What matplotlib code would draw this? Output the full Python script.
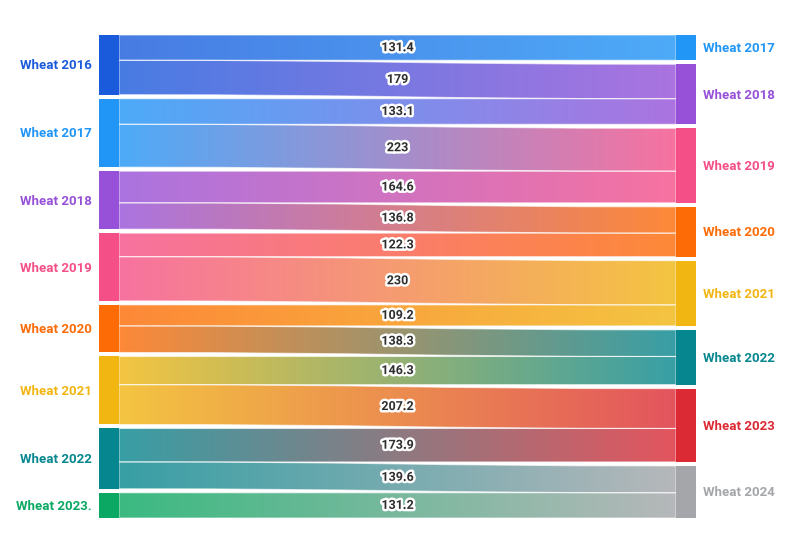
import numpy as np
import matplotlib
matplotlib.use("Agg")
from matplotlib import pyplot as plt
from matplotlib.path import Path
from matplotlib.patches import PathPatch, Rectangle
from matplotlib.colors import to_rgb
import matplotlib.patheffects as pe

# sankey data
left_nodes = ["Wheat 2016", "Wheat 2017", "Wheat 2018", "Wheat 2019",
              "Wheat 2020", "Wheat 2021", "Wheat 2022", "Wheat 2023."]
right_nodes = ["Wheat 2017", "Wheat 2018", "Wheat 2019", "Wheat 2020",
               "Wheat 2021", "Wheat 2022", "Wheat 2023", "Wheat 2024"]
left_colors = ["#1a5bdc", "#2196f6", "#9651d8", "#f54f88",
               "#fd6b06", "#f1b612", "#06878f", "#0aa862"]
right_colors = ["#2196f6", "#9651d8", "#f54f88", "#fd6b06",
                "#f1b612", "#06878f", "#dc2a35", "#a4a6a9"]
sources = [0, 0, 1, 1, 2, 2, 3, 3, 4, 4, 5, 5, 6, 6, 7]
targets = [0, 1, 1, 2, 2, 3, 3, 4, 4, 5, 5, 6, 6, 7, 7]
values = [131.4, 179, 133.1, 223, 164.6, 136.8, 122.3, 230,
          109.2, 138.3, 146.3, 207.2, 173.9, 139.6, 131.2]

W, H = 794, 536
top, bottom = 35, 518
gap = 4
node_w = 20
xl, xr = 99, 676


def light(c, a=0.8):
    # node colour seen through alpha on white
    r = np.array(to_rgb(c))
    return a * r + (1 - a)


def layout(n, idx):
    totals = np.zeros(n)
    for i, v in zip(idx, values):
        totals[i] += v
    return totals


lt = layout(len(left_nodes), sources)
rt = layout(len(right_nodes), targets)
k = (bottom - top - gap * (len(left_nodes) - 1)) / lt.sum()

l_top = top + np.concatenate([[0], np.cumsum(lt[:-1] * k + gap)])
r_top = top + np.concatenate([[0], np.cumsum(rt[:-1] * k + gap)])

fig = plt.figure(figsize=(W / 100, H / 100), dpi=100)
ax = fig.add_axes([0, 0, 1, 1])
ax.set_xlim(0, W)
ax.set_ylim(H, 0)
ax.axis("off")

font = "Roboto"

# links
l_off = l_top.copy()
r_off = r_top.copy()
x0, x1 = xl + node_w, xr
xm = (x0 + x1) / 2
for s, t, v in zip(sources, targets, values):
    h = v * k
    ys0, ys1 = l_off[s], l_off[s] + h
    yt0, yt1 = r_off[t], r_off[t] + h
    l_off[s] += h
    r_off[t] += h
    verts = [(x0, ys0), (xm, ys0), (xm, yt0), (x1, yt0),
             (x1, yt1),
             (xm, yt1), (xm, ys1), (x0, ys1),
             (x0, ys0)]
    codes = [Path.MOVETO, Path.CURVE4, Path.CURVE4, Path.CURVE4,
             Path.LINETO,
             Path.CURVE4, Path.CURVE4, Path.CURVE4,
             Path.CLOSEPOLY]
    patch = PathPatch(Path(verts, codes), facecolor="none",
                      edgecolor=(1, 1, 1, 0.6), lw=0.8, zorder=3)
    ax.add_patch(patch)
    c0 = light(left_colors[s])
    c1 = light(right_colors[t])
    tt = np.linspace(0, 1, 256)[None, :, None]
    grad = c0[None, None, :] * (1 - tt) + c1[None, None, :] * tt
    ymin, ymax = min(ys0, yt0) - 1, max(ys1, yt1) + 1
    im = ax.imshow(grad, extent=[x0, x1, ymax, ymin], aspect="auto",
                   interpolation="bilinear", zorder=2)
    im.set_clip_path(patch)
    ymid = ((ys0 + ys1) / 2 + (yt0 + yt1) / 2) / 2
    ax.text(xm, ymid, f"{v:g}", ha="center", va="center", fontsize=9,
            color="#2e2e2e", family=font, fontweight="bold", zorder=5,
            path_effects=[pe.withStroke(linewidth=3.5, foreground="white")])

# nodes
for i, name in enumerate(left_nodes):
    h = lt[i] * k
    ax.add_patch(Rectangle((xl, l_top[i]), node_w, h,
                           color=left_colors[i], lw=0, zorder=4))
    ax.text(xl - 7, l_top[i] + h / 2 + 1, name, ha="right", va="center",
            fontsize=9.5, color=left_colors[i], family=font,
            fontweight="bold")

for i, name in enumerate(right_nodes):
    h = rt[i] * k
    ax.add_patch(Rectangle((xr, r_top[i]), node_w, h,
                           color=right_colors[i], lw=0, zorder=4))
    ax.text(xr + node_w + 7, r_top[i] + h / 2 + 1, name, ha="left",
            va="center", fontsize=9.5, color=right_colors[i], family=font,
            fontweight="bold")

fig.savefig("out.png", dpi=100)
